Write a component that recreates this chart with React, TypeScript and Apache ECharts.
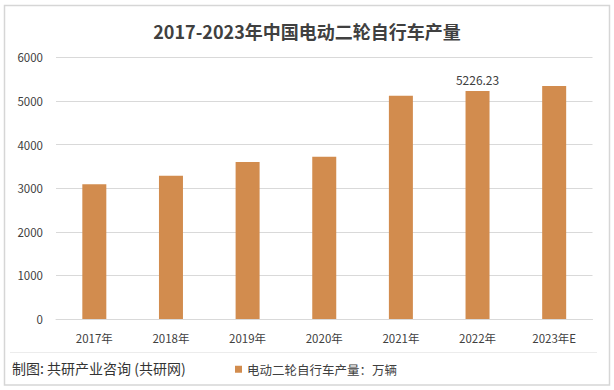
import React, { useEffect, useRef } from "react";
import * as echarts from "echarts";

const categories = ["2017年", "2018年", "2019年", "2020年", "2021年", "2022年", "2023年E"];
const production = [3090, 3285, 3600, 3720, 5118, 5226.23, 5342];
const labeledIndex = 5;
const seriesName = "电动二轮自行车产量：万辆";
const titleText = "2017-2023年中国电动二轮自行车产量";
const sourceText = "制图: 共研产业咨询 (共研网)";

const FONT = "'Noto Sans CJK SC', 'Noto Sans', sans-serif";
const BAR = "#D28C4E";

export default function App() {
  const ref = useRef<HTMLDivElement>(null);
  useEffect(() => {
    if (!ref.current) return;
    const chart = echarts.init(ref.current, null, { renderer: "svg" });
    chart.setOption({
      animation: false,
      backgroundColor: "#ffffff",
      textStyle: { fontFamily: FONT },
      title: {
        text: titleText,
        left: "center",
        top: 17,
        textStyle: { fontSize: 18, fontWeight: "bold", color: "#404040", fontFamily: FONT },
      },
      grid: { left: 56, right: 21.5, top: 57.3, bottom: 71, containLabel: false },
      legend: {
        left: 230,
        top: 358,
        icon: "rect",
        itemWidth: 7,
        itemHeight: 7,
        itemGap: 4,
        textStyle: { fontSize: 12.5, color: "#404040", fontFamily: FONT },
        data: [seriesName],
      },
      xAxis: {
        type: "category",
        data: categories,
        axisLine: { lineStyle: { color: "#d9d9d9" } },
        axisTick: { show: false },
        axisLabel: { fontSize: 11.5, color: "#404040", margin: 13, fontFamily: FONT },
      },
      yAxis: {
        type: "value",
        min: 0,
        max: 6000,
        interval: 1000,
        axisLine: { show: false },
        axisTick: { show: false },
        splitLine: { lineStyle: { color: "#d9d9d9" } },
        axisLabel: {
          fontSize: 11.5,
          color: "#404040",
          margin: 13,
          fontFamily: FONT,
          formatter: (v: number) => String(v),
        },
      },
      series: [
        {
          name: seriesName,
          type: "bar",
          barWidth: 24,
          itemStyle: { color: BAR },
          data: production.map((v, i) =>
            i === labeledIndex
              ? {
                  value: v,
                  label: {
                    show: true,
                    position: "top",
                    distance: 6,
                    fontSize: 12,
                    color: "#404040",
                    fontFamily: FONT,
                  },
                }
              : v
          ),
        },
      ],
      graphic: [
        {
          type: "rect",
          shape: { x: 4.5, y: 5.5, width: 605, height: 379.5 },
          style: { fill: "none", stroke: "#d6d6d6", lineWidth: 1.5 },
          silent: true,
        },
        {
          type: "line",
          shape: { x1: 10, y1: 352.5, x2: 597, y2: 352.5 },
          style: { stroke: "#ececec", lineWidth: 1 },
          silent: true,
        },
        {
          type: "text",
          left: 12,
          top: 361,
          style: { text: sourceText, fontSize: 14, fill: "#333333", fontFamily: FONT },
        },
      ],
    });
    return () => chart.dispose();
  }, []);
  return (
    <div
      ref={ref}
      style={{ position: "absolute", left: 0, top: 0, width: 614, height: 390 }}
    />
  );
}
